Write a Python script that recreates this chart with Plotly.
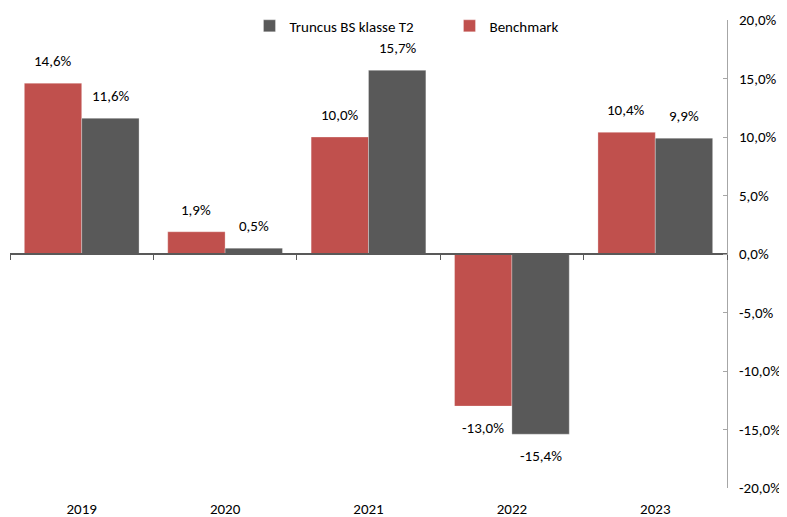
import plotly.graph_objects as go

years = ["2019", "2020", "2021", "2022", "2023"]
benchmark = [14.6, 1.9, 10.0, -13.0, 10.4]
truncus = [11.6, 0.5, 15.7, -15.4, 9.9]
series_names = ["Benchmark", "Truncus BS klasse T2"]
y_tickvals = [-20, -15, -10, -5, 0, 5, 10, 15, 20]
y_ticktext = ["-20,0%", "-15,0%", "-10,0%", "-5,0%", "0,0%", "5,0%", "10,0%", "15,0%", "20,0%"]

RED = "#C0504D"
GRAY = "#595959"
FONT = "Carlito, Lato, 'Liberation Sans', sans-serif"
FS = 15


def fmt(v):
    return f"{v:.1f}".replace(".", ",") + "%"


fig = go.Figure()
fig.add_trace(go.Bar(x=years, y=benchmark, name=series_names[0],
                     marker=dict(color=RED, line=dict(color="rgba(255,255,255,0.5)", width=0.6)),
                     hoverinfo="skip"))
fig.add_trace(go.Bar(x=years, y=truncus, name=series_names[1],
                     marker=dict(color=GRAY, line=dict(color="rgba(255,255,255,0.5)", width=0.6)),
                     hoverinfo="skip"))
# helper trace to carry the zero-line category axis
fig.add_trace(go.Scatter(x=years, y=[None] * len(years), xaxis="x2", yaxis="y",
                         showlegend=False, hoverinfo="skip", mode="markers"))

annotations = []
for vals, shift in ((benchmark, -29), (truncus, 29)):
    for i, v in enumerate(vals):
        annotations.append(dict(
            x=i, y=v, xref="x", yref="y", text=fmt(v), showarrow=False,
            xshift=shift, yshift=11 if v >= 0 else -11,
            yanchor="bottom" if v >= 0 else "top",
            font=dict(family=FONT, size=FS, color="#000000")))

# the page body adds an 8px offset; figure is sized to fill the remaining view
fig.update_layout(
    width=779, height=509,
    margin=dict(l=2, r=60, t=12, b=29, autoexpand=False),
    paper_bgcolor="white", plot_bgcolor="white",
    font=dict(family=FONT, size=FS, color="#000000"),
    barmode="group", bargap=0.2, bargroupgap=0,
    showlegend=True,
    legend=dict(orientation="h", x=0.334, xanchor="left", y=0.987, yanchor="middle",
                traceorder="reversed", font=dict(family=FONT, size=FS),
                entrywidth=155, entrywidthmode="pixels", bgcolor="rgba(0,0,0,0)"),
    annotations=annotations,
    xaxis=dict(type="category", categoryarray=years, showline=False, ticks="",
               showgrid=False, zeroline=False, range=[-0.5, 4.5],
               ticklabelstandoff=10, tickfont=dict(family=FONT, size=FS)),
    xaxis2=dict(type="category", categoryarray=years, overlaying="x", anchor="free",
                position=0.5, range=[-0.5, 4.5], showline=True, linecolor="#595959",
                linewidth=1.5, ticks="outside", tickson="boundaries", ticklen=5,
                tickcolor="#595959", tickwidth=1.2, showticklabels=False,
                showgrid=False, zeroline=False),
    yaxis=dict(side="right", range=[-20, 20], tickvals=y_tickvals, ticktext=y_ticktext,
               showline=True, linecolor="#A6A6A6", linewidth=1, ticks="inside",
               ticklen=4, tickcolor="#A6A6A6", showgrid=False, zeroline=False,
               ticklabelstandoff=8, tickfont=dict(family=FONT, size=FS)),
)

fig.write_html("out.html")
